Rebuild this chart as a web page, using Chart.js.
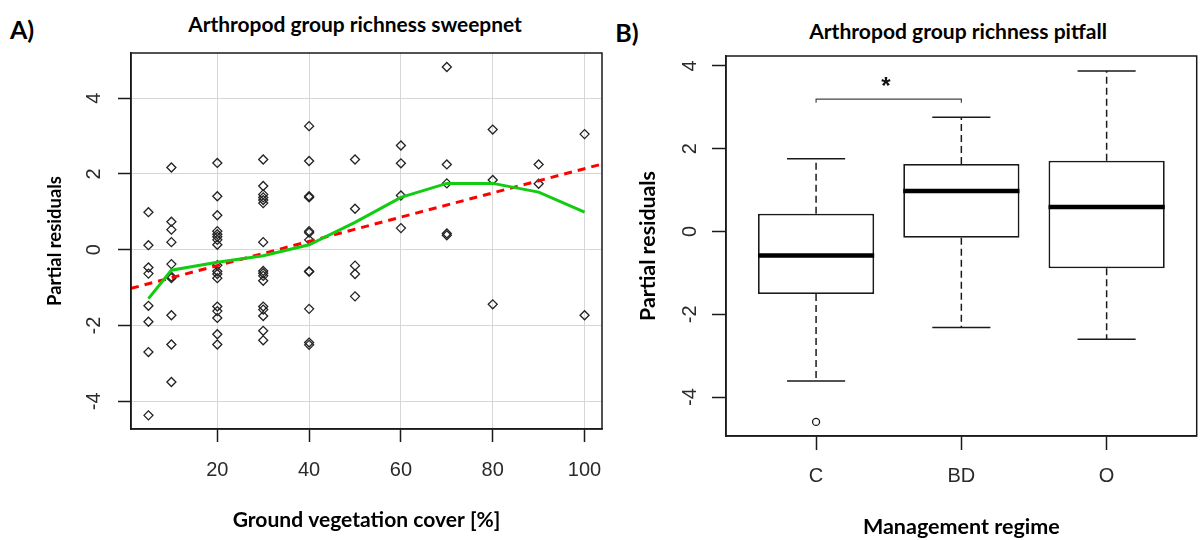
<!DOCTYPE html>
<html>
<head>
<meta charset="utf-8">
<script src="https://cdn.jsdelivr.net/npm/chart.js@4.4.1/dist/chart.umd.min.js"></script>
<style>
  body { margin: 0; background: #fff; width: 1202px; height: 540px; position: relative; overflow: hidden; font-family: Lato, sans-serif; }
  canvas { position: absolute; top: 0; }
  .lbl { position: absolute; font-weight: bold; color: #000; white-space: nowrap; transform: translate(-50%, -50%); line-height: 1; }
</style>
</head>
<body>
<div class="lbl" style="left:22px;top:29px;font-size:25px">A)</div>
<div class="lbl" id="titleA" style="left:355px;top:24px">Arthropod group richness sweepnet</div>
<div class="lbl" style="left:627px;top:32px;font-size:25px">B)</div>
<div class="lbl" id="titleB" style="left:958px;top:31px">Arthropod group richness pitfall</div>
<canvas id="chartA" width="610" height="540" style="left:0"></canvas>
<canvas id="chartB" width="592" height="540" style="left:610px"></canvas>
<script>
// ---- panel A: sweepnet richness vs ground vegetation cover ----
var coverA = [
  5, 5, 5, 5, 5, 5, 5, 5,
  10, 10, 10, 10, 10, 10, 10, 10, 10, 10,
  20, 20, 20, 20, 20, 20, 20, 20, 20, 20, 20, 20, 20, 20, 20, 20, 20,
  30, 30, 30, 30, 30, 30, 30, 30, 30, 30, 30, 30, 30, 30, 30, 30,
  40, 40, 40, 40, 40, 40, 40, 40, 40, 40, 40, 40,
  50, 50, 50, 50, 50,
  60, 60, 60, 60,
  70, 70, 70, 70, 70,
  80, 80, 80,
  90, 90,
  100, 100
];
var residA = [
  0.99, 0.12, -0.47, -0.63, -1.48, -1.90, -2.70, -4.37,
  2.17, 0.74, 0.53, 0.20, -0.38, -0.71, -0.75, -1.73, -2.50, -3.49,
  2.29, 1.41, 0.91, 0.49, 0.41, 0.34, 0.26, 0.13, -0.41, -0.57, -0.64, -0.75, -1.50, -1.62, -1.80, -2.23, -2.50,
  2.38, 1.68, 1.46, 1.38, 1.31, 1.23, 0.20, -0.56, -0.62, -0.69, -0.82, -1.50, -1.58, -1.75, -2.14, -2.39,
  3.26, 2.34, 1.41, 1.38, 0.49, 0.45, 0.26, -0.57, -0.58, -1.56, -2.45, -2.51,
  2.38, 1.08, -0.42, -0.64, -1.23,
  2.75, 2.28, 1.43, 0.57,
  4.82, 2.25, 1.75, 0.43, 0.38,
  3.17, 1.84, -1.44,
  2.25, 1.74,
  3.05, -1.73
];
var loessX = [5, 10, 20, 30, 40, 50, 60, 70, 80, 90, 100];
var loessY = [-1.29, -0.54, -0.33, -0.16, 0.13, 0.72, 1.38, 1.75, 1.75, 1.52, 0.99];
var fitX = [1.2, 103.8];
var fitY = [-1.02, 2.26];
var xTicksA = [20, 40, 60, 80, 100];
var yTicksA = [-4, -2, 0, 2, 4];

// ---- panel B: pitfall richness by management regime ----
var groups = ['C', 'BD', 'O'];
var q1 = [-1.51, -0.15, -0.89];
var med = [-0.58, 0.98, 0.59];
var q3 = [0.43, 1.63, 1.71];
var whiskLo = [-3.61, -2.32, -2.60];
var whiskHi = [1.76, 2.76, 3.88];
var outGroup = [1];
var outVal = [-4.60];
var yTicksB = [-4, -2, 0, 2, 4];
var sigFrom = 1, sigTo = 2, sigTop = 3.20, sigTip = 3.11, sigStarY = 3.59;

function fitSize(text, width) {
  var c = document.createElement('canvas').getContext('2d');
  c.font = 'bold 100px Lato';
  return 100 * width / c.measureText(text).width;
}

document.getElementById('titleA').style.fontSize = fitSize('Arthropod group richness sweepnet', 334) + 'px';
document.getElementById('titleB').style.fontSize = fitSize('Arthropod group richness pitfall', 298) + 'px';

var ayTitle = fitSize('Partial residuals', 130);
var axTitle = fitSize('Ground vegetation cover [%]', 268);
var byTitle = fitSize('Partial residuals', 150);
var bxTitle = fitSize('Management regime', 197);

var frame = {
  id: 'frame',
  afterDraw: function(chart) {
    var a = chart.chartArea, ctx = chart.ctx;
    ctx.save();
    ctx.strokeStyle = '#1a1a1a';
    ctx.lineWidth = 1.5;
    ctx.strokeRect(a.left, a.top, a.right - a.left, a.bottom - a.top);
    ctx.restore();
  }
};

// keep the plot box where the layout padding puts it
function fixX(h) { return function(s) { s.height = h; s.paddingLeft = 0; s.paddingRight = 0; }; }
function fixY(w) { return function(s) { s.width = w; s.paddingTop = 0; s.paddingBottom = 0; }; }

var tickFont = function(size) { return { family: 'Liberation Sans', size: size, lineHeight: 1 }; };
var titleFont = function(size) { return { family: 'Lato', weight: 'bold', size: size, lineHeight: 1.2 }; };

// panel A
var pts = [];
for (var i = 0; i < coverA.length; i++) pts.push({ x: coverA[i], y: residA[i] });
var loess = loessX.map(function(v, i) { return { x: v, y: loessY[i] }; });
var fit = fitX.map(function(v, i) { return { x: v, y: fitY[i] }; });

var chartA = new Chart(document.getElementById('chartA'), {
  type: 'scatter',
  data: {
    datasets: [
      { type: 'line', data: loess, borderColor: '#11cc11', borderWidth: 3, pointRadius: 0, tension: 0, order: 0 },
      { type: 'line', data: fit, borderColor: '#ff0000', borderWidth: 3, borderDash: [8, 6], pointRadius: 0, order: 1 },
      { data: pts, pointStyle: 'rectRot', pointRadius: 4.5, borderColor: '#222', borderWidth: 1.3, backgroundColor: 'rgba(0,0,0,0)', order: 2 }
    ]
  },
  options: {
    responsive: false,
    animation: false,
    layout: { padding: { top: 53, right: 8, left: 0, bottom: 0 } },
    plugins: { legend: { display: false }, tooltip: { enabled: false } },
    scales: {
      x: {
        type: 'linear', min: 1.2, max: 103.8,
        afterBuildTicks: function(s) { s.ticks = xTicksA.map(function(v) { return { value: v }; }); },
        afterFit: fixX(111),
        grid: { color: '#d6d6d6', lineWidth: 1, tickColor: '#1a1a1a', tickWidth: 1.5, tickLength: 13 },
        border: { color: '#1a1a1a', width: 1.5 },
        ticks: { color: '#2a2a2a', font: tickFont(20), padding: 18, maxRotation: 0, autoSkip: false },
        title: { display: true, text: 'Ground vegetation cover [%]', color: '#000', font: titleFont(axTitle),
                 padding: { top: 0, bottom: 20 - axTitle * 0.6 } }
      },
      y: {
        type: 'linear', min: -4.73, max: 5.19,
        afterBuildTicks: function(s) { s.ticks = yTicksA.map(function(v) { return { value: v }; }); },
        afterFit: fixY(131),
        grid: { color: '#d6d6d6', lineWidth: 1, tickColor: '#1a1a1a', tickWidth: 1.5, tickLength: 13 },
        border: { color: '#1a1a1a', width: 1.5 },
        ticks: { color: '#2a2a2a', font: tickFont(20), padding: 14.5, minRotation: 90, maxRotation: 90, crossAlign: 'center' },
        title: { display: true, text: 'Partial residuals', color: '#000', font: titleFont(ayTitle),
                 padding: { top: 55 - ayTitle * 0.6, bottom: 0 } }
      }
    }
  },
  plugins: [frame]
});

// panel B
var medLine = [], boxes = [], whisk = [], caps = [], outs = [];
groups.forEach(function(g, i) {
  var c = i + 1;
  medLine.push({ x: c - 0.4, y: med[i] }, { x: c + 0.4, y: med[i] }, { x: c, y: null });
  boxes.push({ x: c, y: [q1[i], q3[i]] });
  whisk.push({ x: c, y: q3[i] }, { x: c, y: whiskHi[i] }, { x: c, y: null },
             { x: c, y: q1[i] }, { x: c, y: whiskLo[i] }, { x: c, y: null });
  caps.push({ x: c - 0.2, y: whiskHi[i] }, { x: c + 0.2, y: whiskHi[i] }, { x: c, y: null },
            { x: c - 0.2, y: whiskLo[i] }, { x: c + 0.2, y: whiskLo[i] }, { x: c, y: null });
});
outGroup.forEach(function(g, i) { outs.push({ x: g, y: outVal[i] }); });
var bracket = [
  { x: sigFrom, y: sigTip }, { x: sigFrom, y: sigTop }, { x: sigTo, y: sigTop }, { x: sigTo, y: sigTip }
];

var star = {
  id: 'star',
  afterDatasetsDraw: function(chart) {
    var ctx = chart.ctx;
    ctx.save();
    ctx.fillStyle = '#111';
    ctx.font = 'bold 24px "Liberation Sans"';
    ctx.textAlign = 'center';
    ctx.textBaseline = 'middle';
    ctx.fillText('*', chart.scales.x.getPixelForValue(1.48), chart.scales.y.getPixelForValue(sigStarY) + 4);
    ctx.restore();
  }
};

var chartB = new Chart(document.getElementById('chartB'), {
  type: 'bar',
  data: {
    datasets: [
      { type: 'line', data: medLine, borderColor: '#000', borderWidth: 4.5, pointRadius: 0, spanGaps: false, order: 0 },
      { type: 'bar', data: boxes, backgroundColor: '#fff', borderColor: '#1a1a1a', borderWidth: 1.8, borderSkipped: false,
        barPercentage: 0.8, categoryPercentage: 1, order: 1 },
      { type: 'line', data: whisk, borderColor: '#1a1a1a', borderWidth: 1.5, borderDash: [7, 4], pointRadius: 0, spanGaps: false, order: 2 },
      { type: 'line', data: caps, borderColor: '#1a1a1a', borderWidth: 1.5, pointRadius: 0, spanGaps: false, order: 2 },
      { type: 'scatter', data: outs, pointStyle: 'circle', pointRadius: 3.5, borderColor: '#1a1a1a', borderWidth: 1.3, backgroundColor: 'rgba(0,0,0,0)', order: 2 },
      { type: 'line', data: bracket, borderColor: '#444', borderWidth: 1.2, pointRadius: 0, order: 2 }
    ]
  },
  options: {
    responsive: false,
    animation: false,
    layout: { padding: { top: 56, right: 4, left: 0, bottom: 0 } },
    plugins: { legend: { display: false }, tooltip: { enabled: false } },
    scales: {
      x: {
        type: 'linear', min: 0.38, max: 3.62, offset: false,
        afterBuildTicks: function(s) { s.ticks = groups.map(function(g, i) { return { value: i + 1 }; }); },
        afterFit: fixX(104),
        grid: { drawOnChartArea: false, offset: false, tickColor: '#1a1a1a', tickWidth: 1.5, tickLength: 14 },
        border: { color: '#1a1a1a', width: 1.5 },
        ticks: { color: '#2a2a2a', font: tickFont(20), padding: 16, maxRotation: 0, autoSkip: false,
                 callback: function(v, i) { return groups[i]; } },
        title: { display: true, text: 'Management regime', color: '#000', font: titleFont(bxTitle),
                 padding: { top: 0, bottom: 13.3 - bxTitle * 0.6 } }
      },
      y: {
        type: 'linear', min: -4.94, max: 4.24,
        afterBuildTicks: function(s) { s.ticks = yTicksB.map(function(v) { return { value: v }; }); },
        afterFit: fixY(116),
        grid: { drawOnChartArea: false, tickColor: '#1a1a1a', tickWidth: 1.5, tickLength: 14 },
        border: { color: '#1a1a1a', width: 1.5 },
        ticks: { color: '#2a2a2a', font: tickFont(20), padding: 13, minRotation: 90, maxRotation: 90, crossAlign: 'center' },
        title: { display: true, text: 'Partial residuals', color: '#000', font: titleFont(byTitle),
                 padding: { top: 38.6 - byTitle * 0.6, bottom: 0 } }
      }
    }
  },
  plugins: [frame, star]
});
</script>
</body>
</html>
